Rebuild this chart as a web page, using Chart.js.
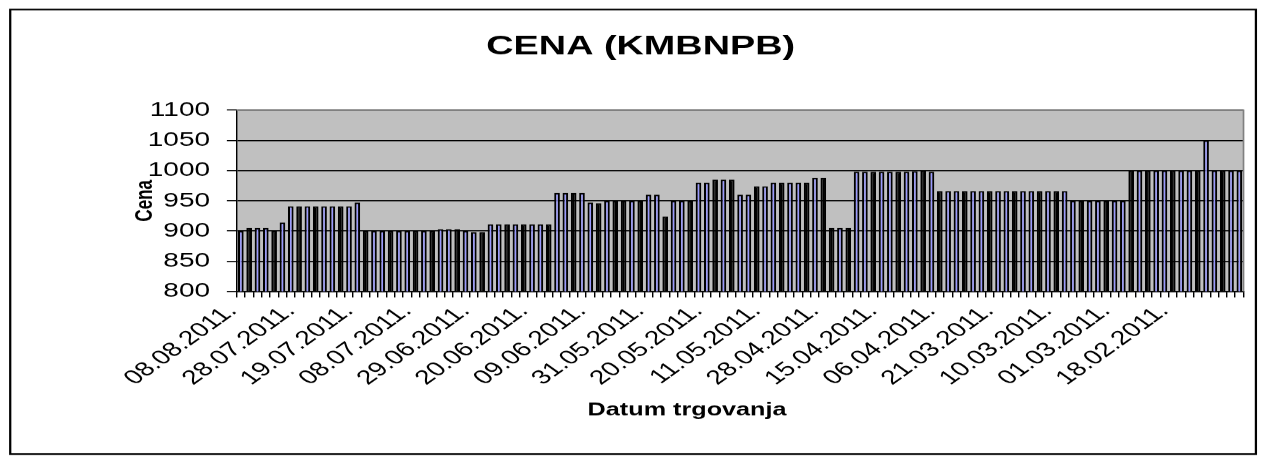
<!DOCTYPE html>
<html>
<head>
<meta charset="utf-8">
<script src="https://cdn.jsdelivr.net/npm/chart.js@4.4.1/dist/chart.umd.min.js"></script>
<style>
  html, body { margin: 0; padding: 0; background: #fff; }
  #wrap { width: 1266px; height: 464px; overflow: hidden; }
  /* the original picture is stretched sideways, so draw narrow and widen */
  #chart { transform: scaleX(1.40044); transform-origin: 0 0; }
</style>
</head>
<body>
<div id="wrap"><canvas id="chart" width="904" height="464"></canvas></div>
<script>
// labelled trading days (one every 7 bars)
const tickDates = ['08.08.2011.', '28.07.2011.', '19.07.2011.', '08.07.2011.', '29.06.2011.',
  '20.06.2011.', '09.06.2011.', '31.05.2011.', '20.05.2011.', '11.05.2011.', '28.04.2011.',
  '15.04.2011.', '06.04.2011.', '21.03.2011.', '10.03.2011.', '01.03.2011.', '18.02.2011.'];

// price per trading day, newest first
const cena = [
  900, 905, 905, 905, 900, 914,
  941, 941, 941, 941, 941, 941, 941, 941, 947,
  900, 900, 900, 900, 900, 900, 900, 900, 900, 903, 903, 903, 900, 898, 898,
  911, 911, 911, 911, 911, 911, 911, 911,
  963, 963, 963, 963, 947, 946,
  950, 950, 950, 950, 950, 960, 960, 924, 950, 950, 950,
  980, 980, 985, 985, 985, 960, 960, 974, 974,
  980, 980, 980, 980, 980, 988, 988, 905, 905, 905,
  998, 998, 998, 998, 998, 998, 998, 999, 1000, 998,
  966, 966, 966, 966, 966, 966, 966, 966, 966, 966, 966, 966, 966, 966, 966, 966,
  950, 950, 950, 950, 950, 950, 950,
  1000, 1000, 1000, 1000, 1000, 1000, 1000, 1000, 1000, 1050, 1000, 1000, 1000, 1000
];

const labelStep = 7;
const categories = cena.map((v, i) => (i % labelStep === 0 ? tickDates[i / labelStep] || '' : ''));

Chart.defaults.font.family = '"Liberation Sans", Arial, sans-serif';
Chart.defaults.color = '#000';

const frame = {
  id: 'frame',
  beforeDraw(chart) {
    const { ctx, chartArea: a } = chart;
    ctx.save();
    ctx.fillStyle = '#fff';
    ctx.fillRect(0, 0, chart.width, chart.height);
    ctx.fillStyle = '#c0c0c0';
    ctx.fillRect(a.left, a.top, a.right - a.left, a.bottom - a.top);
    ctx.restore();
  },
  afterDraw(chart) {
    const { ctx, chartArea: a } = chart;
    ctx.save();
    ctx.strokeStyle = '#808080';
    ctx.lineWidth = 1.2;
    ctx.beginPath();
    ctx.moveTo(a.left, a.top);
    ctx.lineTo(a.right, a.top);
    ctx.lineTo(a.right, a.bottom);
    ctx.stroke();
    // outer chart border
    ctx.strokeStyle = '#000';
    ctx.lineWidth = 1.6;
    ctx.strokeRect(7.3, 9.5, 889.5, 444);
    // x axis title
    ctx.fillStyle = '#000';
    ctx.font = 'bold 18px "Liberation Sans", Arial, sans-serif';
    ctx.textAlign = 'center';
    ctx.textBaseline = 'middle';
    ctx.fillText('Datum trgovanja', 490.6, 410);
    ctx.restore();
  }
};

new Chart(document.getElementById('chart'), {
  type: 'bar',
  data: {
    labels: categories,
    datasets: [{
      label: 'Cena',
      data: cena,
      // Excel's thin bars come out solid black about every third bar
      backgroundColor: ctx => ((ctx.dataIndex * 0.36 + 0.8) % 1 < 0.36 ? '#000000' : '#9999ff'),
      borderColor: '#000',
      borderWidth: 1.5,
      barPercentage: 0.68,
      categoryPercentage: 1
    }]
  },
  options: {
    responsive: false,
    animation: false,
    devicePixelRatio: 1.40044,
    layout: { padding: { left: 24, right: 13, top: 10, bottom: 10 } },
    plugins: {
      legend: { display: false },
      tooltip: { enabled: false },
      title: {
        display: true,
        text: 'CENA (KMBNPB)',
        color: '#000',
        font: { size: 27, weight: 'bold' },
        padding: { top: 20.8, bottom: 46.8 }
      }
    },
    scales: {
      x: {
        grid: { drawOnChartArea: false, drawTicks: true, tickLength: 6, color: '#000', offset: true },
        border: { color: '#000', width: 1 },
        ticks: { autoSkip: false, minRotation: 45, maxRotation: 45, padding: 2, labelOffset: -6, font: { size: 20 } },
        afterFit: s => { s.height = 163; }
      },
      y: {
        min: 800,
        max: 1100,
        ticks: { stepSize: 50, padding: 12, font: { size: 20 }, callback: v => String(v) },
        grid: { color: '#000', tickLength: 7, lineWidth: 1 },
        border: { color: '#000', width: 1 },
        title: {
          display: true,
          text: 'Cena',
          font: { size: 17, weight: 'bold' },
          padding: { top: 70, bottom: 0 }
        },
        afterFit: s => { s.width = 145; }
      }
    }
  },
  plugins: [frame]
});
</script>
</body>
</html>
